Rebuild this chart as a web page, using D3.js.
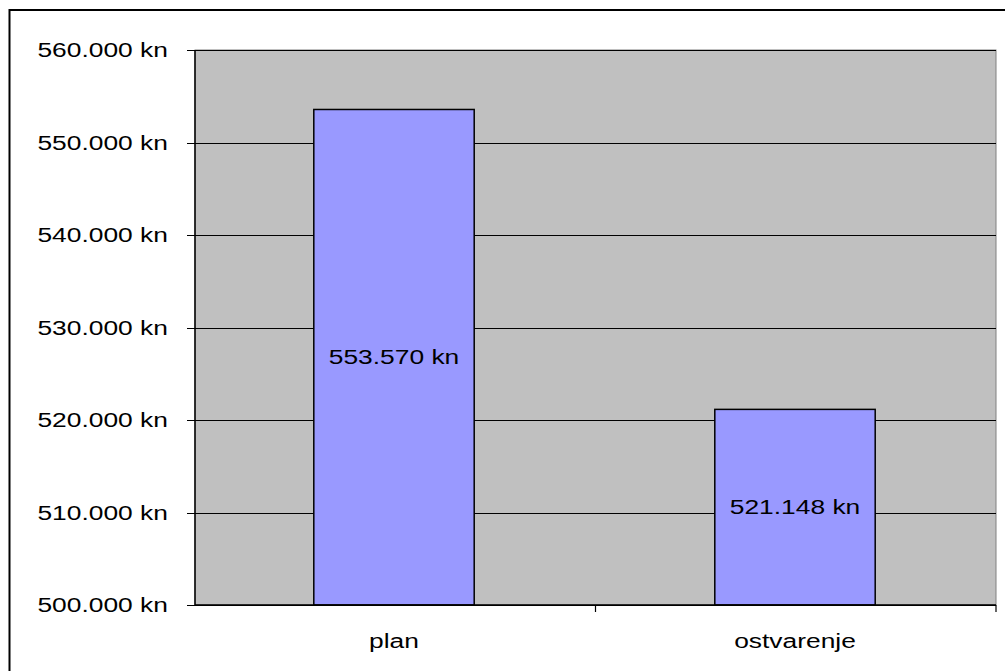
<!DOCTYPE html>
<html><head><meta charset="utf-8">
<script src="https://cdn.jsdelivr.net/npm/d3@7"></script>
<style>body{margin:0;background:#fff}svg{display:block}text{font-family:"Liberation Sans",Arial,sans-serif;fill:#000}</style>
</head><body>
<script>
const categories = ["plan", "ostvarenje"];
const values = [553570, 521148];
const valueLabels = ["553.570 kn", "521.148 kn"];
const yTicks = [500000, 510000, 520000, 530000, 540000, 550000, 560000];
const yTickLabels = ["500.000 kn","510.000 kn","520.000 kn","530.000 kn","540.000 kn","550.000 kn","560.000 kn"];

const W = 1005, H = 671;
const L = 195, R = 996, T = 50, B = 605;
const FS = 20, SX = 1.32;

const svg = d3.select("body").append("svg").attr("width", W).attr("height", H);
svg.append("rect").attr("x", 9.5).attr("y", 10).attr("width", W).attr("height", H)
  .attr("fill", "#fff").attr("stroke", "#000").attr("stroke-width", 2);

const x = d3.scaleBand().domain(categories).range([L - 1.5, R - 0.5]).paddingInner(0.6).paddingOuter(0.3);
const y = d3.scaleLinear().domain([500000, 560000]).range([B, T]);

svg.append("rect").attr("x", L).attr("y", T).attr("width", R - L).attr("height", B - T)
  .attr("fill", "#C0C0C0").attr("stroke", "#808080").attr("stroke-width", 1);

// gridlines
svg.append("g").selectAll("line").data(yTicks).join("line")
  .attr("x1", L - 8).attr("x2", R).attr("y1", d => Math.round(y(d)) + 0.5).attr("y2", d => Math.round(y(d)) + 0.5)
  .attr("stroke", "#000").attr("stroke-width", 1.2);

// bars
svg.append("g").selectAll("rect").data(values).join("rect")
  .attr("x", (d, i) => x(categories[i])).attr("width", x.bandwidth())
  .attr("y", d => y(d)).attr("height", d => y(500000) - y(d))
  .attr("fill", "#9999FF").attr("stroke", "#000").attr("stroke-width", 1.5);

// axes lines
svg.append("line").attr("x1", L).attr("x2", L).attr("y1", T).attr("y2", B).attr("stroke", "#000").attr("stroke-width", 1.5);
svg.append("line").attr("x1", L).attr("x2", R).attr("y1", B).attr("y2", B).attr("stroke", "#000").attr("stroke-width", 1.5);

// x ticks between categories and at the right end
const xTickPos = [(L + R) / 2, R];
svg.append("g").selectAll("line").data(xTickPos).join("line")
  .attr("x1", d => d).attr("x2", d => d).attr("y1", B).attr("y2", B + 7)
  .attr("stroke", "#000").attr("stroke-width", 1.2);

// y labels
svg.append("g").selectAll("text").data(yTicks).join("text")
  .attr("transform", d => `translate(${168},${y(d) + 7}) scale(${SX},1)`)
  .attr("text-anchor", "end").attr("font-size", FS)
  .text((d, i) => yTickLabels[i]);

// value labels
svg.append("g").selectAll("text").data(values).join("text")
  .attr("transform", (d, i) => `translate(${x(categories[i]) + x.bandwidth() / 2},${(y(d) + y(500000)) / 2 + 7}) scale(${SX},1)`)
  .attr("text-anchor", "middle").attr("font-size", FS)
  .text((d, i) => valueLabels[i]);

// category labels
svg.append("g").selectAll("text").data(categories).join("text")
  .attr("transform", d => `translate(${x(d) + x.bandwidth() / 2},${648}) scale(${SX},1)`)
  .attr("text-anchor", "middle").attr("font-size", FS)
  .text(d => d);
</script>
</body></html>
